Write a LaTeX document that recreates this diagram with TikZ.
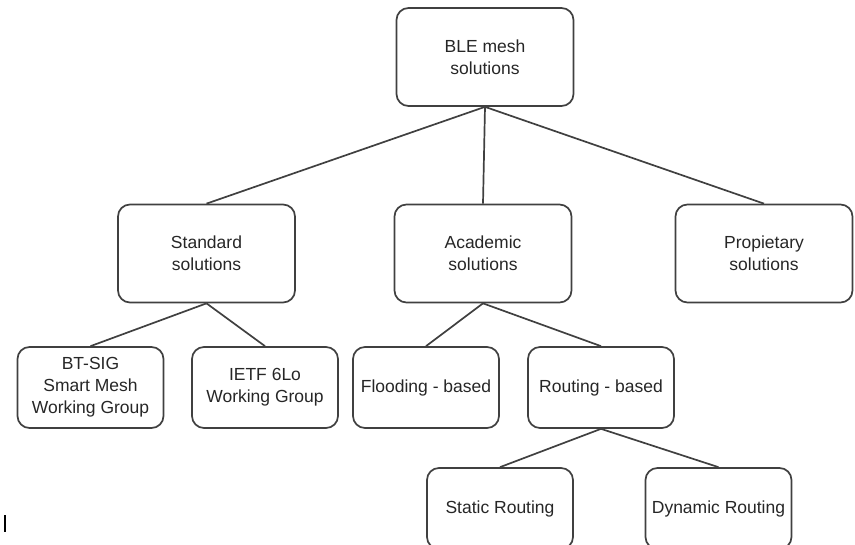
\documentclass[tikz,border=0pt]{standalone}
\usepackage{fontspec}
\setmainfont{Liberation Sans}
\begin{document}
\begin{tikzpicture}[x=1pt,y=-1pt,
        box/.style={draw=black!75, line width=1.7pt, rounded corners=12pt, align=center,
            text=black!85, font=\fontsize{17.5}{22}\selectfont, inner sep=0pt},
        bigbox/.style={box, minimum width=177pt, minimum height=98pt},
        smallbox/.style={box, minimum width=146pt, minimum height=81pt},
        link/.style={draw=black!75, line width=1.7pt}]
        \useasboundingbox (0,0) rectangle (855,545);
        \clip (0,0) rectangle (855,545);
        % top level
        \node[bigbox] (ble) at (485, 57) {BLE mesh\\solutions};
        % second level
        \node[bigbox] (std) at (206.5, 253.5) {Standard\\solutions};
        \node[bigbox] (acad) at (483, 253.5) {Academic\\solutions};
        \node[bigbox] (prop) at (764, 253.5) {Propietary\\solutions};
        % third level
        \node[smallbox] (btsig) at (90.5, 387.5) {BT-SIG\\Smart Mesh\\Working Group};
        \node[smallbox] (ietf) at (265, 387.5) {IETF 6Lo\\Working Group};
        \node[smallbox] (flood) at (426, 387.5) {Flooding - based};
        \node[smallbox] (rout) at (601, 387.5) {Routing - based};
        % fourth level
        \node[smallbox] (static) at (500, 508.5) {Static Routing};
        \node[smallbox] (dyn) at (718.5, 508.5) {Dynamic Routing};

        % Draw the edges
        \draw[link] (ble.south) -- (std.north);
        \draw[link] (ble.south) -- (acad.north);
        \draw[link] (ble.south) -- (prop.north);
        \draw[link] (std.south) -- (btsig.north);
        \draw[link] (std.south) -- (ietf.north);
        \draw[link] (acad.south) -- (flood.north);
        \draw[link] (acad.south) -- (rout.north);
        \draw[link] (rout.south) -- (static.north);
        \draw[link] (rout.south) -- (dyn.north);

        % cursor mark
        \draw[line width=1.5pt] (5, 515) -- (5, 532);
    \end{tikzpicture}
\end{document}
